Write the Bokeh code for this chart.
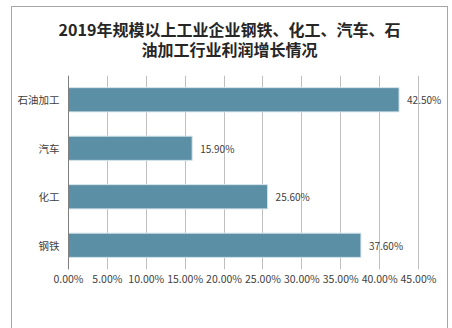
from bokeh.plotting import figure
from bokeh.models import (ColumnDataSource, FactorRange, Range1d, FixedTicker, LabelSet,
                          Legend, LegendItem, Span)
from bokeh.core.properties import value
from bokeh.embed import file_html
from bokeh.resources import INLINE

categories = ["钢铁", "化工", "汽车", "石油加工"]
values = [37.6, 25.6, 15.9, 42.5]
x_ticks = [0, 5, 10, 15, 20, 25, 30, 35, 40, 45]
x_tick_labels = ["0.00%", "5.00%", "10.00%", "15.00%", "20.00%", "25.00%",
                 "30.00%", "35.00%", "40.00%", "45.00%"]
series_name = "利润同比增长%"
title_text = "2019年规模以上工业企业钢铁、化工、汽车、石\n油加工行业利润增长情况"

FONT = "Noto Sans CJK SC"
BAR = "#5b8fa6"
TXT = "#404040"
EDGE = "#a6a6a6"

src = ColumnDataSource(dict(cat=categories, val=values,
                            lab=[f"{v:.2f}%" for v in values]))

# 0..45 spans 350 px; the frame is widened on both sides so that the category and
# value labels fit inside it and the title / legend centre on the whole chart
px_per_unit = 350 / 45
x_start = -56 / px_per_unit
x_end = 378 / px_per_unit

p = figure(width=437, height=323, frame_width=434, frame_height=194,
           output_backend="svg", toolbar_location=None,
           y_range=FactorRange(*categories), x_range=Range1d(x_start, x_end),
           min_border_left=1, min_border_right=2, min_border_top=74, min_border_bottom=55)
p.margin = (0, 0, 0, 11)
g = f"linear-gradient({EDGE},{EDGE})"
p.styles = {"background": (f"{g} 0 6px / 100% 1px no-repeat, "
                           f"{g} 0 100% / 100% 1px no-repeat, "
                           f"{g} 0 6px / 1px calc(100% - 6px) no-repeat, "
                           f"{g} 100% 6px / 1px calc(100% - 6px) no-repeat, white")}

p.title.text = title_text
p.title.align = "center"
if "text_align" in p.title.properties():
    p.title.text_align = "center"
p.title.text_font = FONT
p.title.text_font_size = "16px"
p.title.text_font_style = "bold"
p.title.text_color = "#262626"
p.title.text_line_height = 0.82
p.title.standoff = 29

p.outline_line_color = None
p.background_fill_color = "white"
p.border_fill_alpha = 0

r = p.hbar(y="cat", right="val", height=0.5, left=0, source=src,
           fill_color=BAR, line_color="#d6e4ea", line_width=1)

# value labels
p.add_layout(LabelSet(x="val", y="cat", text="lab", source=src, x_offset=8,
                      text_baseline="middle", text_font=value(FONT), text_font_size="10px",
                      text_color=TXT))
# category labels on the value axis origin
p.add_layout(LabelSet(x=0, y="cat", text="cat", source=src, x_offset=-9,
                      text_align="right", text_baseline="middle", text_font=value(FONT),
                      text_font_size="10.5px", text_color=TXT))
p.add_layout(Span(location=0, dimension="height", line_color="#7f7f7f", line_width=1))

p.xaxis.ticker = FixedTicker(ticks=x_ticks)
p.xaxis.major_label_overrides = {t: l for t, l in zip(x_ticks, x_tick_labels)}
p.xaxis.axis_line_color = None
p.xaxis.major_tick_line_color = None
p.xaxis.major_tick_out = 0
p.xaxis.major_tick_in = 0
p.xaxis.minor_tick_line_color = None
p.xaxis.major_label_text_font = FONT
p.xaxis.major_label_text_font_size = "10.5px"
p.xaxis.major_label_text_color = TXT
p.xaxis.major_label_standoff = 1

p.yaxis.visible = False

p.xgrid.grid_line_color = "#bfbfbf"
p.xgrid.ticker = FixedTicker(ticks=x_ticks)
p.ygrid.grid_line_color = None

legend = Legend(items=[LegendItem(label=series_name, renderers=[r])],
                orientation="horizontal", location="center",
                label_text_font=FONT, label_text_font_size="11.5px", label_text_color=TXT,
                glyph_width=7, glyph_height=7, label_standoff=3, label_height=14,
                border_line_color=None, background_fill_alpha=0,
                padding=0, margin=0, spacing=0)
p.add_layout(legend, "below")

open("out.html", "w").write(file_html(p, INLINE))
